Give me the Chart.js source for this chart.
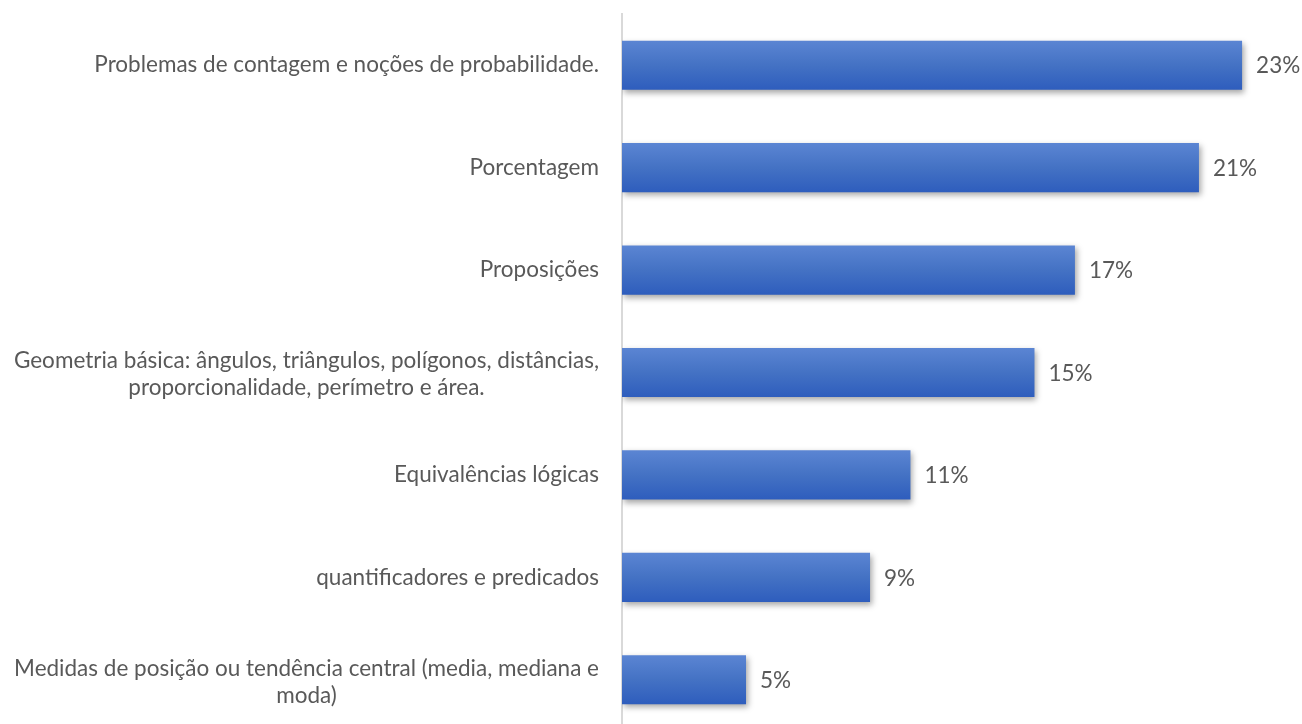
<!DOCTYPE html>
<html>
<head>
<meta charset="utf-8">
<script src="https://cdn.jsdelivr.net/npm/chart.js@4/dist/chart.umd.min.js"></script>
<style>
  html, body { margin: 0; padding: 0; background: #fff; overflow: hidden; }
  #wrap { width: 1302px; height: 724px; overflow: hidden; }
</style>
</head>
<body>
<div id="wrap"><canvas id="chart" width="1302" height="745"></canvas></div>
<script>
// categorias (cada linha do rótulo em um item)
const topicos = [
  ['Problemas de contagem e noções de probabilidade.'],
  ['Porcentagem'],
  ['Proposições'],
  ['Geometria básica: ângulos, triângulos, polígonos, distâncias,', 'proporcionalidade, perímetro e área.'],
  ['Equivalências lógicas'],
  ['quantificadores e predicados'],
  ['Medidas de posição ou tendência central (media, mediana e', 'moda)'],
];
// percentuais
const percentuais = [23.0, 21.4, 16.8, 15.3, 10.7, 9.2, 4.6];
const escalaMax = 25;

const FONTE = 'Lato, "Open Sans", sans-serif';
const COR_TEXTO = '#595959';

function gradiente(context) {
  const chart = context.chart;
  const y = chart.scales.y;
  if (!y || context.dataIndex === undefined) return '#4472c4';
  const centro = y.getPixelForValue(context.dataIndex);
  const meio = (y.height / topicos.length) * 0.48 / 2;
  if (!isFinite(centro) || !isFinite(meio) || meio <= 0) return '#4472c4';
  const g = chart.ctx.createLinearGradient(0, centro - meio, 0, centro + meio);
  g.addColorStop(0, '#5b85d3');
  g.addColorStop(0.5, '#4472c4');
  g.addColorStop(1, '#2e5dbd');
  return g;
}

// sombra das barras
const sombra = {
  id: 'sombra',
  beforeDatasetDraw(chart) {
    const ctx = chart.ctx;
    ctx.save();
    ctx.shadowColor = 'rgba(0,0,0,0.35)';
    ctx.shadowBlur = 6;
    ctx.shadowOffsetX = 2;
    ctx.shadowOffsetY = 3;
  },
  afterDatasetDraw(chart) {
    chart.ctx.restore();
  },
};

// rótulos das categorias, linhas centradas entre si e bloco alinhado à direita
const rotulos = {
  id: 'rotulos',
  afterDraw(chart) {
    const ctx = chart.ctx;
    const y = chart.scales.y;
    const direita = chart.chartArea.left - 23;
    const alturaLinha = 27;
    ctx.save();
    ctx.font = `22.5px ${FONTE}`;
    ctx.fillStyle = COR_TEXTO;
    ctx.textAlign = 'center';
    ctx.textBaseline = 'middle';
    topicos.forEach((linhas, i) => {
      const largura = Math.max(...linhas.map(l => ctx.measureText(l).width));
      const cx = direita - largura / 2;
      const cy = y.getPixelForTick(i);
      const inicio = cy - (linhas.length - 1) * alturaLinha / 2 + (linhas.length > 1 ? 2 : 0);
      linhas.forEach((l, j) => ctx.fillText(l, cx, inicio + j * alturaLinha));
    });
    ctx.restore();
  },
};

// valores no fim das barras
const valores = {
  id: 'valores',
  afterDatasetsDraw(chart) {
    const ctx = chart.ctx;
    const meta = chart.getDatasetMeta(0);
    ctx.save();
    ctx.font = `22.5px ${FONTE}`;
    ctx.fillStyle = COR_TEXTO;
    ctx.textAlign = 'left';
    ctx.textBaseline = 'middle';
    meta.data.forEach((bar, i) => {
      ctx.fillText(Math.round(percentuais[i]) + '%', bar.x + 14, bar.y + 1);
    });
    ctx.restore();
  },
};

new Chart(document.getElementById('chart').getContext('2d'), {
  type: 'bar',
  data: {
    labels: topicos.map(t => t.join(' ')),
    datasets: [{
      data: percentuais,
      backgroundColor: gradiente,
      borderWidth: 0,
      categoryPercentage: 1,
      barPercentage: 0.48,
    }],
  },
  plugins: [sombra, rotulos, valores],
  options: {
    indexAxis: 'y',
    responsive: false,
    devicePixelRatio: 1,
    animation: false,
    layout: { padding: { left: 614, right: 6, top: 14, bottom: 14 } },
    plugins: { legend: { display: false }, tooltip: { enabled: false } },
    scales: {
      x: { display: false, min: 0, max: escalaMax },
      y: {
        ticks: { display: false },
        grid: { display: false },
        border: { color: '#d9d9d9', width: 2 },
      },
    },
  },
});
</script>
</body>
</html>
